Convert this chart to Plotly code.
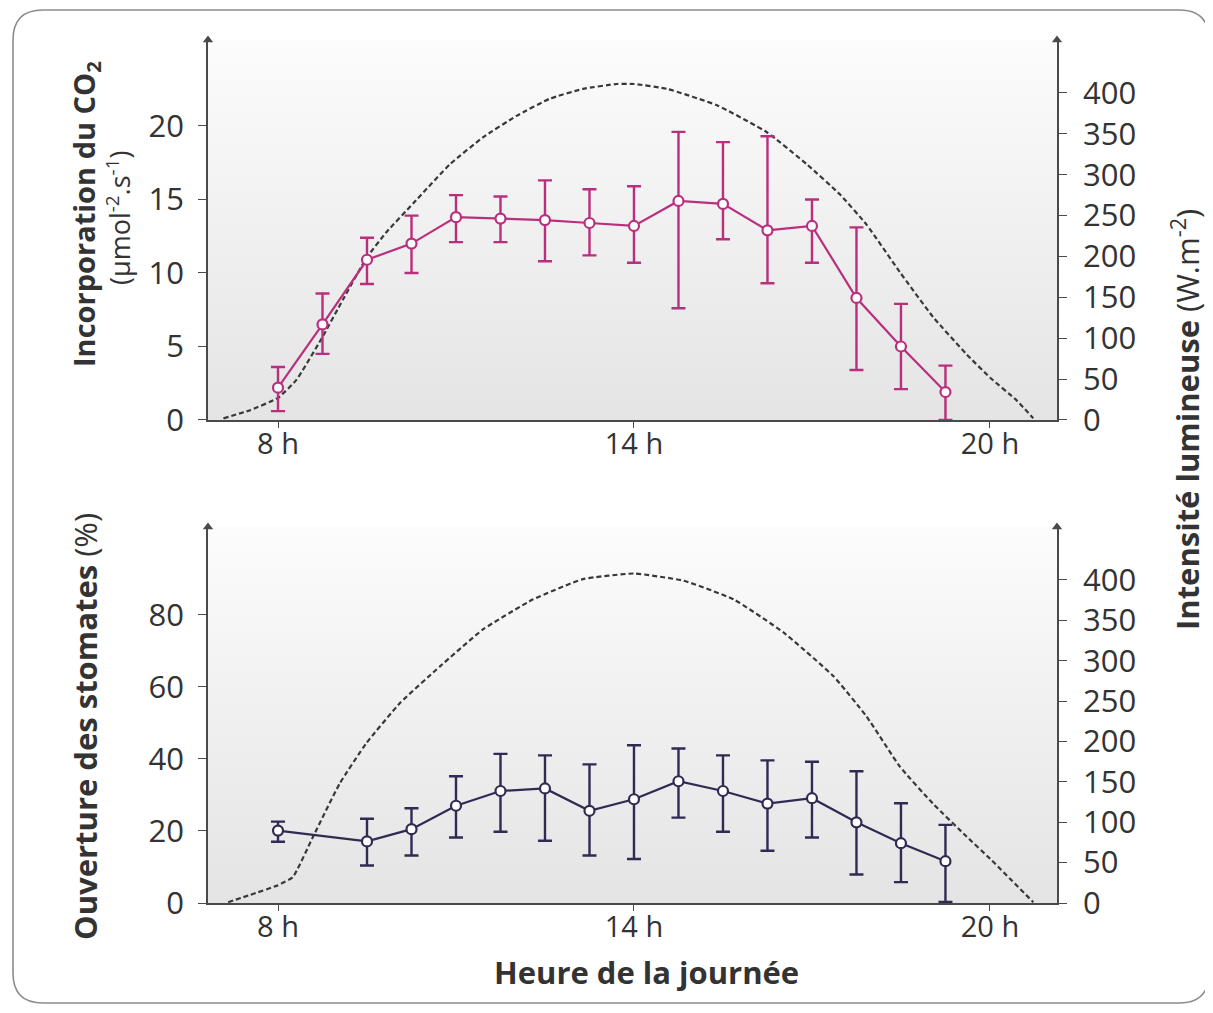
import plotly.graph_objects as go

# ---------------- data ----------------
hours_co2 = [8, 8.75, 9.5, 10.25, 11, 11.75, 12.5, 13.25, 14, 14.75, 15.5, 16.25, 17, 17.75, 18.5, 19.25]
co2 = [2.2, 6.5, 10.9, 12.0, 13.8, 13.7, 13.6, 13.4, 13.2, 14.9, 14.7, 12.9, 13.2, 8.3, 5.0, 1.9]
co2_hi = [3.6, 8.6, 12.4, 13.9, 15.3, 15.2, 16.3, 15.7, 15.9, 19.6, 18.9, 19.3, 15.0, 13.1, 7.9, 3.7]
co2_lo = [0.6, 4.5, 9.25, 10.0, 12.1, 12.1, 10.8, 11.2, 10.7, 7.6, 12.3, 9.3, 10.7, 3.4, 2.1, 0.0]

hours_st = [8, 9.5, 10.25, 11, 11.75, 12.5, 13.25, 14, 14.75, 15.5, 16.25, 17, 17.75, 18.5, 19.25]
stomata = [20.1, 17.1, 20.5, 27.0, 31.1, 31.8, 25.6, 28.8, 33.8, 31.1, 27.6, 29.1, 22.4, 16.6, 11.6]
st_hi = [22.6, 23.4, 26.3, 35.2, 41.4, 41.0, 38.5, 43.8, 42.9, 41.0, 39.6, 39.2, 36.6, 27.7, 21.7]
st_lo = [17.0, 10.4, 13.2, 18.2, 19.8, 17.3, 13.2, 12.2, 23.7, 19.8, 14.5, 18.2, 7.9, 5.8, 0.3]

light_h_top = [7.08, 7.53, 8.0, 8.31, 8.73, 9.1, 9.49, 9.83, 10.28, 10.9, 11.46, 12.02, 12.58, 13.14,
               13.71, 14.0, 14.56, 15.4, 16.24, 16.91, 17.47, 17.92, 18.48, 19.04, 19.61, 20.0, 20.45, 20.73]
light_top = [2, 12, 27, 49, 99, 148, 198, 230, 265, 313, 346, 372, 393, 405,
             411, 411, 405, 385, 352, 313, 276, 239, 181, 126, 80, 52, 24, 2]

light_h_bot = [7.16, 7.53, 8.0, 8.25, 8.59, 9.04, 9.49, 10.06, 10.73, 11.46, 12.3, 13.14, 14.0,
               14.84, 15.68, 16.52, 17.36, 17.92, 18.48, 19.04, 19.61, 20.0, 20.73]
light_bot = [1, 10, 22, 32, 82, 148, 198, 248, 293, 339, 376, 401, 408,
             399, 376, 335, 281, 231, 169, 123, 82, 55, 1]

x_tickvals = [8, 14, 20]
x_ticktext = ["8 h", "14 h", "20 h"]
co2_ticks = [0, 5, 10, 15, 20]
st_ticks = [0, 20, 40, 60, 80]
light_ticks = [0, 50, 100, 150, 200, 250, 300, 350, 400]

# ---------------- styles ----------------
X_RANGE = [6.82, 21.13]
CO2_RANGE = [0, 25.85]
ST_RANGE = [0, 104.4]
LIGHT_RANGE_TOP = [0, 464.8]
LIGHT_RANGE_BOT = [0, 465.6]
TOP_DOM = [0.5597, 1.0]
BOT_DOM = [0.0, 0.4357]

AXC = "#4a4a4a"
TXT = "#333333"
NUM_FONT = dict(family="Open Sans, sans-serif", size=31, color=TXT)
XT_FONT = dict(family="Open Sans, sans-serif", size=29, color=TXT)
TFAM = "Open Sans, sans-serif"
PURPLE = "#b92f7d"
NAVY = "#2f2b52"
LIGHTC = "#383838"

fig = go.Figure()

# background gradient panels
for xa, ya, rng in [("x", "y", LIGHT_RANGE_TOP), ("x2", "y3", LIGHT_RANGE_BOT)]:
    fig.add_trace(go.Scatter(
        x=[X_RANGE[0], X_RANGE[1], X_RANGE[1], X_RANGE[0], X_RANGE[0]],
        y=[rng[0], rng[0], rng[1], rng[1], rng[0]],
        xaxis=xa, yaxis=ya, mode="lines", line=dict(width=0),
        fill="toself",
        fillgradient=dict(type="vertical", colorscale=[[0, "#e4e4e4"], [0.5, "#f0f0f0"], [1, "#fcfcfc"]]),
        hoverinfo="skip", showlegend=False))

# light curves (right axes)
fig.add_trace(go.Scatter(x=light_h_top, y=light_top, xaxis="x", yaxis="y", mode="lines",
                         line=dict(color=LIGHTC, width=2.2, dash="5px,3px", shape="spline", smoothing=0.4),
                         showlegend=False))
fig.add_trace(go.Scatter(x=light_h_bot, y=light_bot, xaxis="x2", yaxis="y3", mode="lines",
                         line=dict(color=LIGHTC, width=2.2, dash="5px,3px", shape="spline", smoothing=0.4),
                         showlegend=False))

# axis arrowheads at the top of each vertical axis
for xa, ya, rng in [("x", "y", LIGHT_RANGE_TOP), ("x2", "y3", LIGHT_RANGE_BOT)]:
    fig.add_trace(go.Scatter(x=[X_RANGE[0], X_RANGE[1]], y=[rng[1], rng[1]], xaxis=xa, yaxis=ya,
                             mode="markers", cliponaxis=False, hoverinfo="skip", showlegend=False,
                             marker=dict(symbol="triangle-up", size=9, color=AXC, line=dict(width=0))))

# CO2 (top, left axis)
fig.add_trace(go.Scatter(
    x=hours_co2, y=co2, xaxis="x", yaxis="y2", mode="lines+markers",
    line=dict(color=PURPLE, width=2.2),
    marker=dict(symbol="circle", size=10, color="white", line=dict(color=PURPLE, width=2.2)),
    error_y=dict(type="data", symmetric=False,
                 array=[h - v for h, v in zip(co2_hi, co2)],
                 arrayminus=[v - l for v, l in zip(co2, co2_lo)],
                 color=PURPLE, thickness=2.4, width=7),
    showlegend=False))

# stomata (bottom, left axis)
fig.add_trace(go.Scatter(
    x=hours_st, y=stomata, xaxis="x2", yaxis="y4", mode="lines+markers",
    line=dict(color=NAVY, width=2.2),
    marker=dict(symbol="circle", size=10, color="white", line=dict(color=NAVY, width=2.2)),
    error_y=dict(type="data", symmetric=False,
                 array=[h - v for h, v in zip(st_hi, stomata)],
                 arrayminus=[v - l for v, l in zip(stomata, st_lo)],
                 color=NAVY, thickness=2.4, width=7),
    showlegend=False))

xcommon = dict(range=X_RANGE, tickmode="array", tickvals=x_tickvals, ticktext=x_ticktext,
               showgrid=True, gridcolor="#8a8a8a", griddash="dot", gridwidth=1,
               showline=True, linecolor=AXC, linewidth=1.6, ticks="outside", ticklen=6,
               tickcolor=AXC, tickwidth=1.4, tickfont=XT_FONT, zeroline=False, fixedrange=True,
               ticklabelstandoff=-9)
ycommon = dict(showgrid=False, zeroline=False, showline=True, linecolor=AXC, linewidth=1.6,
               ticks="outside", ticklen=8, tickcolor=AXC, tickwidth=1.4, tickfont=NUM_FONT,
               tickmode="array", fixedrange=True)

# page body has an 8px margin: the figure is 8px smaller and offset accordingly
fig.update_layout(
    width=1205, height=1005,
    margin=dict(l=200, r=156, t=32, b=110),
    paper_bgcolor="white", plot_bgcolor="rgba(0,0,0,0)",
    showlegend=False,
    xaxis=dict(domain=[0, 1], anchor="y", **xcommon),
    xaxis2=dict(domain=[0, 1], anchor="y3", **xcommon),
    yaxis=dict(domain=TOP_DOM, anchor="x", side="right", range=LIGHT_RANGE_TOP,
               tickvals=light_ticks, ticklabelstandoff=10, **ycommon),
    yaxis2=dict(anchor="x", overlaying="y", side="left", range=CO2_RANGE,
                tickvals=co2_ticks, ticklabelstandoff=8, **ycommon),
    yaxis3=dict(domain=BOT_DOM, anchor="x2", side="right", range=LIGHT_RANGE_BOT,
                tickvals=light_ticks, ticklabelstandoff=10, **ycommon),
    yaxis4=dict(anchor="x2", overlaying="y3", side="left", range=ST_RANGE,
                tickvals=st_ticks, ticklabelstandoff=8, **ycommon),
)


def px2paper(px, py):
    return (px - 208) / 849.0, (903 - py) / 863.0


for txt, (px, py), size in [
    ("<b>Incorporation du CO<sub>2</sub></b>", (85, 214), 29),
    ("(µmol<sup>-2</sup>.s<sup>-1</sup>)", (118, 218), 27),
    ("<b>Ouverture des stomates</b> (%)", (85, 727), 31),
    ("<b>Intensité lumineuse</b> (W.m<sup>-2</sup>)", (1185, 420), 31),
]:
    xp, yp = px2paper(px, py)
    fig.add_annotation(x=xp, y=yp, xref="paper", yref="paper", text=txt, showarrow=False,
                       textangle=-90, xanchor="center", yanchor="middle",
                       font=dict(family=TFAM, size=size, color=TXT))

xp, yp = px2paper(646, 972)
fig.add_annotation(x=xp, y=yp, xref="paper", yref="paper", text="<b>Heure de la journée</b>",
                   showarrow=False, xanchor="center", yanchor="middle",
                   font=dict(family=TFAM, size=31, color=TXT))

# rounded frame
x0, y1 = px2paper(13, 10)
x1, y0 = px2paper(1209, 1003)
rx, ry = 30 / 849.0, 30 / 863.0
path = (f"M {x0+rx},{y1} L {x1-rx},{y1} Q {x1},{y1} {x1},{y1-ry} L {x1},{y0+ry} "
        f"Q {x1},{y0} {x1-rx},{y0} L {x0+rx},{y0} Q {x0},{y0} {x0},{y0+ry} "
        f"L {x0},{y1-ry} Q {x0},{y1} {x0+rx},{y1} Z")
fig.add_shape(type="path", path=path, xref="paper", yref="paper",
              line=dict(color="#8c8c8c", width=1.6), layer="below")

fig.write_html("out.html")
